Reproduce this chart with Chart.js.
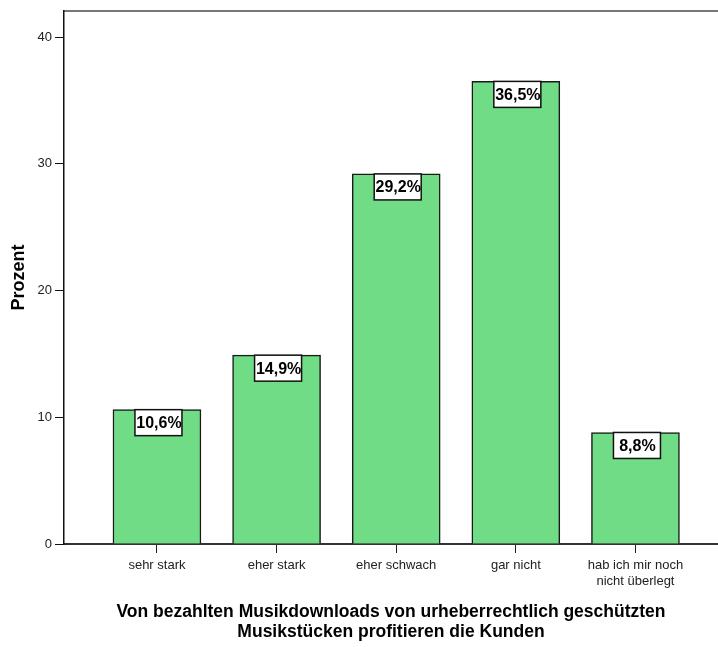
<!DOCTYPE html>
<html>
<head>
<meta charset="utf-8">
<script src="https://cdn.jsdelivr.net/npm/chart.js@4/dist/chart.umd.min.js"></script>
<style>
  html, body { margin: 0; padding: 0; background: #fff; overflow: hidden; }
  canvas { display: block; }
</style>
</head>
<body>
<canvas id="chart" width="718" height="647"></canvas>
<script>
// Data
const categories = ['sehr stark', 'eher stark', 'eher schwach', 'gar nicht', ['hab ich mir noch', 'nicht überlegt']];
const percentages = [10.6, 14.9, 29.2, 36.5, 8.8];
const valueLabels = ['10,6%', '14,9%', '29,2%', '36,5%', '8,8%'];
const yTicks = [0, 10, 20, 30, 40];

const FONT = '"Liberation Sans", Arial, Helvetica, sans-serif';

// white boxed percentage label at the top of each bar
const boxLabels = {
    id: 'boxLabels',
    afterDatasetsDraw(chart) {
        const ctx = chart.ctx;
        const meta = chart.getDatasetMeta(0);
        ctx.save();
        meta.data.forEach((bar, i) => {
            const w = 47, h = 26;
            const x = bar.x + 1.5 - w / 2;
            const y = bar.y;
            ctx.fillStyle = '#fff';
            ctx.fillRect(x, y, w, h);
            ctx.strokeStyle = '#111';
            ctx.lineWidth = 1.5;
            ctx.strokeRect(x, y, w, h);
            ctx.fillStyle = '#000';
            ctx.font = 'bold 16px ' + FONT;
            ctx.textAlign = 'center';
            ctx.textBaseline = 'middle';
            ctx.fillText(valueLabels[i], bar.x + 2, y + h / 2 + 1);
        });
        ctx.restore();
    }
};

const ctx = document.getElementById('chart').getContext('2d');
new Chart(ctx, {
    type: 'bar',
    data: {
        datasets: [{
            data: percentages.map((v, i) => ({ x: i, y: v })),
            backgroundColor: '#70dc86',
            borderColor: '#1a1a1a',
            borderWidth: 1.5,
            borderSkipped: 'bottom',
            barThickness: 88
        }]
    },
    options: {
        responsive: false,
        animation: false,
        layout: { padding: { top: 6, right: 0, left: 0, bottom: 0 } },
        plugins: {
            legend: { display: false },
            tooltip: { enabled: false }
        },
        scales: {
            x: {
                type: 'linear',
                position: 'bottom',
                min: -0.777,
                max: 4.69,
                offset: false,
                afterBuildTicks: (scale) => { scale.ticks = categories.map((_, i) => ({ value: i })); },
                afterFit: (scale) => { scale.height = 103; },
                ticks: {
                    autoSkip: false,
                    maxRotation: 0,
                    padding: 5,
                    color: '#222',
                    font: { family: FONT, size: 13, lineHeight: 1.2 },
                    callback: (v) => categories[v]
                },
                grid: {
                    display: true,
                    drawOnChartArea: false,
                    drawTicks: true,
                    tickLength: 9,
                    color: '#222',
                    offset: false
                },
                border: { display: true, color: '#333', width: 2 },
                title: {
                    display: true,
                    text: ['Von bezahlten Musikdownloads von urheberrechtlich geschützten', 'Musikstücken profitieren die Kunden'],
                    color: '#000',
                    font: { family: FONT, size: 17.5, weight: 'bold', lineHeight: 1.15 },
                    padding: { top: 0, bottom: 5 }
                }
            },
            top: {
                type: 'linear',
                position: 'top',
                display: true,
                min: 0,
                max: 1,
                ticks: { display: false },
                grid: { display: false, drawTicks: false },
                border: { display: true, color: '#777', width: 2 },
                afterFit: (scale) => { scale.height = 0; }
            },
            y: {
                min: 0,
                max: 42.07,
                afterBuildTicks: (scale) => { scale.ticks = yTicks.map(v => ({ value: v })); },
                afterFit: (scale) => { scale.width = 64; },
                ticks: {
                    padding: 3,
                    color: '#222',
                    font: { family: FONT, size: 13 }
                },
                grid: {
                    display: true,
                    drawOnChartArea: false,
                    drawTicks: true,
                    tickLength: 9,
                    color: '#111'
                },
                border: { display: true, color: '#111', width: 1.5 },
                title: {
                    display: true,
                    text: 'Prozent',
                    color: '#000',
                    font: { family: FONT, size: 18, weight: 'bold' },
                    padding: { top: 8, bottom: 0 }
                }
            }
        }
    },
    plugins: [boxLabels]
});
</script>
</body>
</html>
